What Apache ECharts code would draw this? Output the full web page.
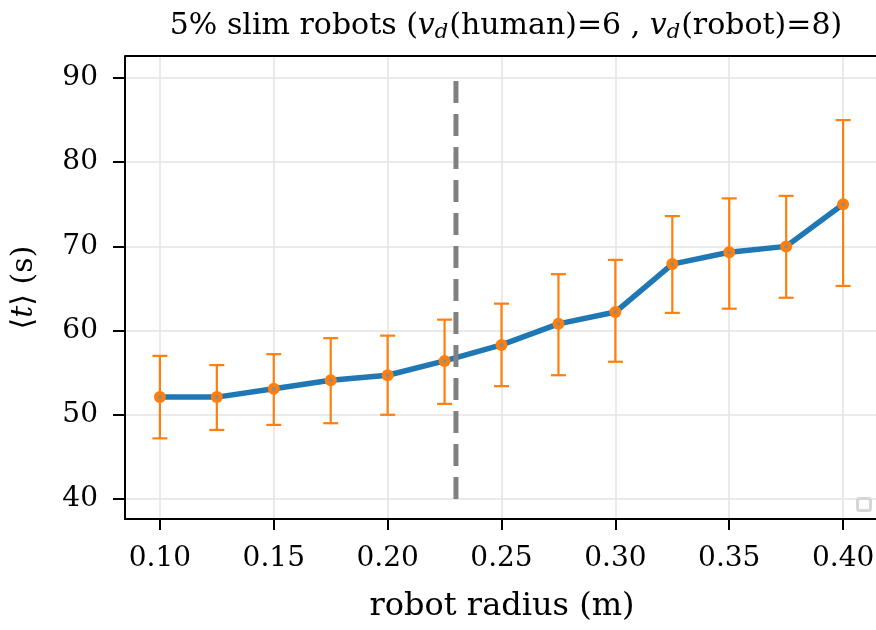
<!DOCTYPE html>
<html>
<head>
<meta charset="utf-8">
<script src="https://cdn.jsdelivr.net/npm/echarts@6/dist/echarts.min.js"></script>
<style>html,body{margin:0;padding:0;background:#fff;}#c{width:876px;height:630px;}</style>
</head>
<body>
<div id="c"></div>
<script>
// ---- data ----
const radius = [0.100, 0.125, 0.150, 0.175, 0.200, 0.225, 0.250, 0.275, 0.300, 0.325, 0.350, 0.375, 0.400];
const meanT  = [52.1, 52.1, 53.1, 54.1, 54.7, 56.4, 58.3, 60.8, 62.2, 67.9, 69.3, 70.0, 75.0];
const errLow = [47.2, 48.2, 48.8, 49.0, 50.0, 51.3, 53.4, 54.7, 56.3, 62.1, 62.6, 63.9, 65.3];
const errHigh= [57.0, 55.9, 57.2, 59.1, 59.4, 61.3, 63.2, 66.7, 68.4, 73.6, 75.7, 76.0, 85.0];
const xTicks = [0.10, 0.15, 0.20, 0.25, 0.30, 0.35, 0.40];
const yTicks = [40, 50, 60, 70, 80, 90];
const thresholdRadius = 0.23;
const thresholdSpan = [40, 90];

const FONT = '"DejaVu Serif", "Liberation Serif", serif';

const lineData = radius.map((r, i) => [r, meanT[i]]);
const errData = radius.map((r, i) => [r, errLow[i], errHigh[i], meanT[i]]);

const chart = echarts.init(document.getElementById('c'), null, {renderer: 'canvas'});
chart.setOption({
  animation: false,
  backgroundColor: '#fff',
  title: {
    text: '{n|5% slim robots (}{v|v}{d|d}{n|(human)=6 , }{v|v}{d|d}{n|(robot)=8)}',
    left: 501, top: 3, textAlign: 'center',
    textStyle: {
      fontWeight: 'normal',
      rich: {
        n: {fontFamily: FONT, fontSize: 30, fontWeight: 'normal', color: '#000', lineHeight: 36},
        v: {fontFamily: FONT, fontSize: 30, fontWeight: 'normal', fontStyle: 'italic', color: '#000', lineHeight: 36},
        d: {fontFamily: FONT, fontSize: 21, fontWeight: 'normal', fontStyle: 'italic', color: '#000', lineHeight: 36, padding: [14, 1, 0, 0]}
      }
    }
  },
  grid: {left: 125, right: -3, top: 56, bottom: 111, containLabel: false, outerBoundsMode: 'none'},
  xAxis: {
    type: 'value',
    min: 0.08467, max: 0.41576,
    name: 'robot radius (m)',
    nameLocation: 'middle', nameGap: 72,
    nameTextStyle: {fontFamily: FONT, fontSize: 32, color: '#000'},
    axisLine: {show: true, onZero: false, lineStyle: {color: '#000', width: 2}},
    axisTick: {show: true, inside: false, length: 11, lineStyle: {color: '#000', width: 2}, customValues: xTicks},
    axisLabel: {fontFamily: FONT, fontSize: 28, color: '#000', margin: 26, customValues: xTicks,
      formatter: v => v.toFixed(2)},
    splitLine: {show: true, lineStyle: {color: '#e3e3e3', width: 1.5}}
  },
  yAxis: {
    type: 'value',
    min: 37.625, max: 92.61,
    name: '{a|⟨}{t|t}{a|⟩ (s)}',
    nameLocation: 'middle', nameGap: 86,
    nameTextStyle: {fontFamily: FONT, fontSize: 30, color: '#000',
      rich: {
        a: {fontFamily: FONT, fontSize: 30, color: '#000'},
        t: {fontFamily: FONT, fontSize: 30, fontStyle: 'italic', color: '#000'}
      }},
    axisLine: {show: true, onZero: false, lineStyle: {color: '#000', width: 2}},
    axisTick: {show: true, inside: false, length: 12, lineStyle: {color: '#000', width: 2}, customValues: yTicks},
    axisLabel: {fontFamily: FONT, fontSize: 28, color: '#000', margin: 27, customValues: yTicks},
    splitLine: {show: true, lineStyle: {color: '#e3e3e3', width: 1.5}}
  },
  graphic: [
    {type: 'line', shape: {x1: 125, y1: 56, x2: 880, y2: 56}, style: {stroke: '#000', lineWidth: 2}, z: 10},
    {type: 'rect', shape: {x: 857.5, y: 498.5, width: 13, height: 12, r: 2}, style: {fill: 'none', stroke: '#d6d6d6', lineWidth: 3}, z: 10}
  ],
  series: [
    {
      type: 'line',
      data: lineData,
      symbol: 'none',
      lineStyle: {color: '#1f77b4', width: 5.5},
      z: 2
    },
    {
      type: 'custom',
      data: errData,
      z: 3,
      renderItem: function (params, api) {
        const x = api.value(0);
        const lo = api.coord([x, api.value(1)]);
        const hi = api.coord([x, api.value(2)]);
        const c = api.coord([x, api.value(3)]);
        const half = 7.5;
        const st = {stroke: '#ff7f0e', lineWidth: 2.2};
        return {
          type: 'group',
          children: [
            {type: 'line', shape: {x1: lo[0], y1: lo[1], x2: hi[0], y2: hi[1]}, style: st},
            {type: 'line', shape: {x1: lo[0] - half, y1: lo[1], x2: lo[0] + half, y2: lo[1]}, style: st},
            {type: 'line', shape: {x1: hi[0] - half, y1: hi[1], x2: hi[0] + half, y2: hi[1]}, style: st},
            {type: 'circle', shape: {cx: c[0], cy: c[1], r: 6}, style: {fill: '#ff7f0e'}},
            {type: 'circle', shape: {cx: c[0], cy: c[1], r: 1.9}, style: {fill: '#8c8c8c'}}
          ]
        };
      }
    },
    {
      type: 'line',
      data: thresholdSpan.map(v => [thresholdRadius, v]),
      symbol: 'none',
      lineStyle: {color: '#808080', width: 5, type: [22, 11]},
      z: 4
    }
  ]
});
</script>
</body>
</html>
